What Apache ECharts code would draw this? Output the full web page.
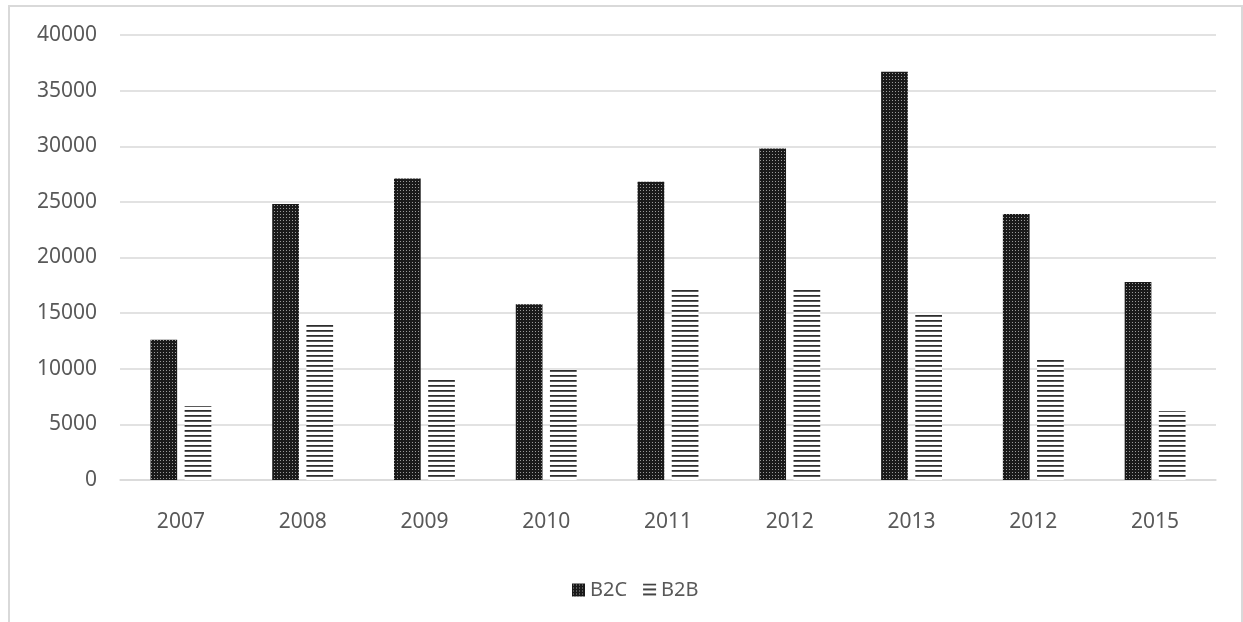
<!DOCTYPE html>
<html>
<head>
<meta charset="utf-8">
<script src="https://cdn.jsdelivr.net/npm/echarts@6/dist/echarts.min.js"></script>
<style>
html,body{margin:0;padding:0;background:#fff;}
#chart{width:1243px;height:622px;}
</style>
</head>
<body>
<div id="chart"></div>
<script>
const categories = ['2007','2008','2009','2010','2011','2012','2013','2012','2015'];
const b2cValues = [12600, 24800, 27100, 15800, 26800, 29800, 36700, 23900, 17800];
const b2bValues = [6650, 14000, 9000, 9900, 17300, 17300, 15000, 10800, 6200];
const seriesNames = ['B2C', 'B2B'];

function dotPattern() {
  const c = document.createElement('canvas');
  c.width = 3; c.height = 3;
  const g = c.getContext('2d');
  g.fillStyle = '#1a1a1a'; g.fillRect(0,0,3,3);
  g.fillStyle = '#9a9a9a'; g.fillRect(1,1,1,1);
  return c;
}
function stripePattern() {
  const c = document.createElement('canvas');
  c.width = 4; c.height = 5;
  const g = c.getContext('2d');
  g.fillStyle = '#ffffff'; g.fillRect(0,0,4,5);
  g.fillStyle = '#2e2e2e'; g.fillRect(0,0,4,1);
  g.fillStyle = '#5a5a5a'; g.fillRect(0,1,4,1);
  return c;
}

const chart = echarts.init(document.getElementById('chart'), null, {renderer:'canvas'});
const font = 'Noto Sans';
chart.setOption({
  animation: false,
  backgroundColor: '#ffffff',
  graphic: [{
    type: 'rect', silent: true, z: -1,
    shape: {x: 9, y: 6, width: 1233, height: 700},
    style: {fill: 'none', stroke: '#d9d9d9', lineWidth: 2}
  }],
  grid: {left: 120, right: 27, top: 35, bottom: 142},
  legend: {
    top: 575, left: 567,
    icon: 'rect', itemWidth: 13, itemHeight: 13, itemGap: 16,
    textStyle: {fontFamily: font, fontSize: 20, color: '#595959'},
    data: seriesNames
  },
  xAxis: {
    type: 'category',
    data: categories,
    axisLine: {show: true, lineStyle: {color: '#d9d9d9', width: 1.5}},
    axisTick: {show: false},
    axisLabel: {fontFamily: font, fontSize: 21, color: '#595959', margin: 32}
  },
  yAxis: {
    type: 'value', min: 0, max: 40000, interval: 5000,
    axisLine: {show: false}, axisTick: {show: false},
    splitLine: {lineStyle: {color: '#d9d9d9', width: 1.5}},
    axisLabel: {fontFamily: font, fontSize: 21, color: '#595959', margin: 23,
      formatter: function (v) { return String(v); }}
  },
  series: [
    {
      name: seriesNames[0], type: 'bar', data: b2cValues,
      barGap: '28%', barCategoryGap: '50%',
      itemStyle: {color: {image: dotPattern(), repeat: 'repeat'}}
    },
    {
      name: seriesNames[1], type: 'bar', data: b2bValues,
      barGap: '28%', barCategoryGap: '50%',
      itemStyle: {color: {image: stripePattern(), repeat: 'repeat'}}
    }
  ]
});
</script>
</body>
</html>
